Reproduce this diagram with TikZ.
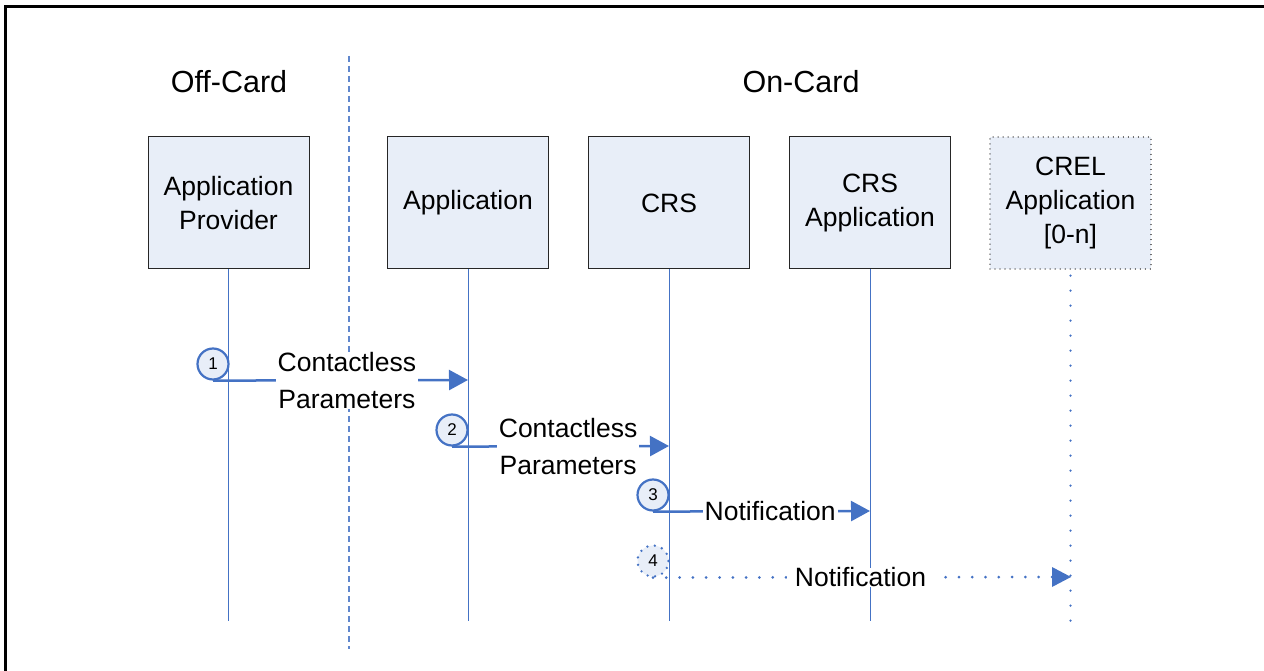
\documentclass[tikz,border=0pt]{standalone}
\usepackage{fontspec}
\setmainfont{Liberation Sans}
\usetikzlibrary{arrows.meta}
\definecolor{lblue}{HTML}{4472C4}
\definecolor{boxfill}{HTML}{E8EEF8}
\definecolor{boxline}{HTML}{262626}
\tikzset{
  actor/.style={draw=boxline, line width=1pt, fill=boxfill, minimum width=161pt, minimum height=132pt, align=center, font=\fontsize{26.5}{34}\selectfont, inner sep=0pt},
  title/.style={font=\fontsize{30.5}{36}\selectfont, inner sep=0pt},
  lifeline/.style={draw=lblue, line width=1pt},
  num/.style={circle, draw=lblue, line width=2.2pt, fill=boxfill, minimum size=31pt, inner sep=0pt, font=\fontsize{17}{20}\selectfont},
  msg/.style={draw=lblue, line width=2.5pt, -{Triangle[length=19pt,width=20pt]}},
  lbl/.style={fill=white, text=black, align=center, inner xsep=2pt, inner ysep=0pt, font=\fontsize{26.5}{37}\selectfont},
  dotline/.style={line width=3pt, line cap=round, dash pattern=on 0pt off 13.3pt},
}
\begin{document}
\begin{tikzpicture}[x=1pt,y=-1pt]
\useasboundingbox (0,0) rectangle (1264,671);
% outer frame (left and top edges visible)
\draw[line width=2.6pt] (5.3,671) -- (5.3,6.8) -- (1264,6.8);
% divider
\draw[lblue!85, line width=1.2pt, dash pattern=on 6pt off 4pt] (349,56) coordinate (dtop) -- (349,649) coordinate (dbot);
% titles
\node[title] (off) at (229,82) {Off-Card};
\node[title] (on) at (801,82) {On-Card};
% actors
\node[actor] (ap) at (228.5,203) {Application\\Provider};
\node[actor] (app) at (468,203) {Application};
\node[actor] (crs) at (669,203) {CRS};
\node[actor] (crsa) at (870,203) {CRS\\Application};
\node[actor, draw=boxline!80, line width=1.2pt, dash pattern=on 0.01pt off 5pt, line cap=round] (crel) at (1070.5,203) {CREL\\Application\\{[0-n]}};
% lifeline end points
\coordinate (apE) at (228.5,621);
\coordinate (appE) at (468,621);
\coordinate (crsE) at (669,621);
\coordinate (crsaE) at (870,621);
\coordinate (crelE) at (1070.5,621);
\draw[lifeline] (ap.south) -- (apE);
\draw[lifeline] (app.south) -- (appE);
\draw[lifeline] (crs.south) -- (crsE);
\draw[lifeline] (crsa.south) -- (crsaE);
\draw[lblue, line width=2.5pt, line cap=round, dash pattern=on 0pt off 15pt] (crel.south) ++(0,6) coordinate (crelS) (crelS) -- (crelE);
% message endpoints on lifelines
\coordinate (a1) at (468,380);
\coordinate (a2) at (669,446);
\coordinate (a3) at (870,511);
\coordinate (a4) at (1071,577);
% step circles
\node[num] (n1) at (213,364) {1};
\node[num] (n2) at (452,430) {2};
\node[num] (n3) at (653,495) {3};
\node[num, draw=none] (n4) at (653,561) {4};
\draw[lblue, line width=2.6pt, line cap=round, dash pattern=on 0pt off 7.5pt] (n4) circle (15.5pt);
% messages
\draw[msg] (n1.south) -- node[lbl, pos=0.525] {Contactless\\Parameters} (a1);
\draw[msg] (n2.south) -- node[lbl, pos=0.535] {Contactless\\Parameters} (a2);
\draw[msg] (n3.south) -- node[lbl, pos=0.54] {Notification} (a3);
\draw[lblue, dotline] (n4.south) -- node[lbl, pos=0.52, inner xsep=8pt] {Notification} ([xshift=-19pt]a4);
\draw[draw=none, fill=lblue] (a4) -- ++(-19,-10) -- ++(0,20) -- cycle;
\end{tikzpicture}
\end{document}
